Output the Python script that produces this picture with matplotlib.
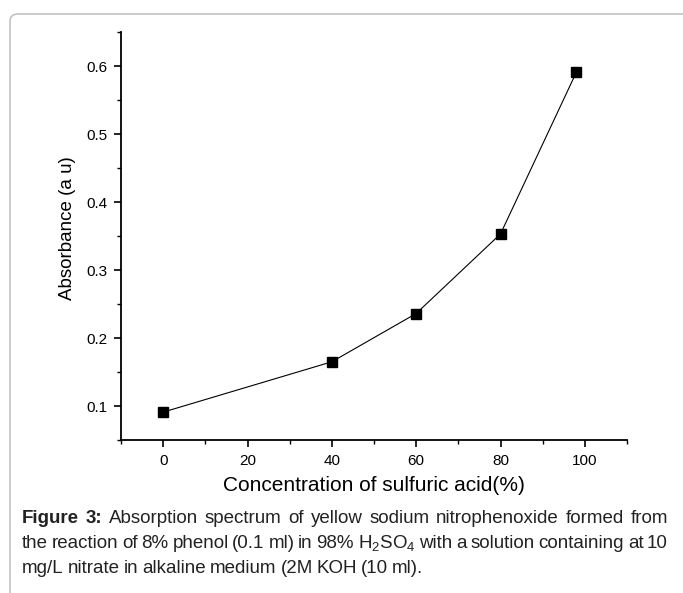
import matplotlib
matplotlib.use('Agg')
import matplotlib.pyplot as plt
from matplotlib.patches import FancyBboxPatch
from matplotlib.ticker import MultipleLocator

# datos
concentracion = [0, 40, 60, 80, 98]
absorbancia = [0.091, 0.165, 0.236, 0.353, 0.591]
x_ticks = [0, 20, 40, 60, 80, 100]
y_ticks = [0.1, 0.2, 0.3, 0.4, 0.5, 0.6]

caption_lines = [
    [("Figure 3:", True), ("Absorption spectrum of yellow sodium nitrophenoxide formed from", False)],
    [("the reaction of 8% phenol (0.1 ml) in 98% H$_2$SO$_4$ with a solution containing at 10", False)],
    [("mg/L nitrate in alkaline medium (2M KOH (10 ml).", False)],
]

fuente = 'Liberation Sans'
plt.rcParams['font.family'] = [fuente, 'DejaVu Sans']
plt.rcParams['mathtext.fontset'] = 'custom'
plt.rcParams['mathtext.rm'] = fuente
plt.rcParams['mathtext.it'] = fuente

W, H = 683, 593
fig = plt.figure(figsize=(W / 100, H / 100), dpi=100)

# marco redondeado gris
marco = FancyBboxPatch((10 / W, -0.2), 1.0, 1 - 14 / H + 0.2,
                       boxstyle="round,pad=0,rounding_size=0.012",
                       transform=fig.transFigure, fill=False,
                       edgecolor='#c4c4c4', linewidth=1.2)
fig.patches.append(marco)

ax = fig.add_axes([121 / W, 1 - 440 / H, (627 - 121) / W, (440 - 32) / H])
ax.plot(concentracion, absorbancia, color='black', linewidth=0.8,
        marker='s', markersize=7, markerfacecolor='black')
ax.set_xlim(-10, 110)
ax.set_ylim(0.05, 0.65)
ax.set_xticks(x_ticks)
ax.set_yticks(y_ticks)
ax.set_yticklabels([str(v) for v in y_ticks])
ax.xaxis.set_minor_locator(MultipleLocator(10))
ax.yaxis.set_minor_locator(MultipleLocator(0.05))
ax.spines['top'].set_visible(False)
ax.spines['right'].set_visible(False)
ax.spines['left'].set_linewidth(1.3)
ax.spines['bottom'].set_linewidth(1.3)
ax.tick_params(which='major', length=5, width=1.2, labelsize=11, pad=5)
ax.tick_params(which='minor', length=3, width=1.0)
ax.set_xlabel('Concentration of sulfuric acid(%)', fontsize=15, labelpad=6)
ax.set_ylabel('Absorbance (a u)', fontsize=13.5)
ax.yaxis.set_label_coords(-0.089, 0.52)

# pie de figura justificado
fig.canvas.draw()
renderer = fig.canvas.get_renderer()
left, right = 22, 668
y0 = 523
cap_size = 13.5
for i, line in enumerate(caption_lines):
    y = 1 - (y0 + i * 25) / H
    words = []
    for seg, bold in line:
        for w in seg.split(' '):
            words.append((w, bold))
    texts = []
    total = 0
    for w, bold in words:
        t = fig.text(0, y, w, fontsize=cap_size,
                     fontweight='bold' if bold else 'normal', va='baseline',
                     color='#222222')
        bb = t.get_window_extent(renderer)
        texts.append((t, bb.width))
        total += bb.width
    if i < len(caption_lines) - 1:
        gap = (right - left - total) / (len(words) - 1)
    else:
        gap = 4
    x = left
    for t, wd in texts:
        t.set_x(x / W)
        x += wd + gap

fig.savefig('out.png', dpi=100)
